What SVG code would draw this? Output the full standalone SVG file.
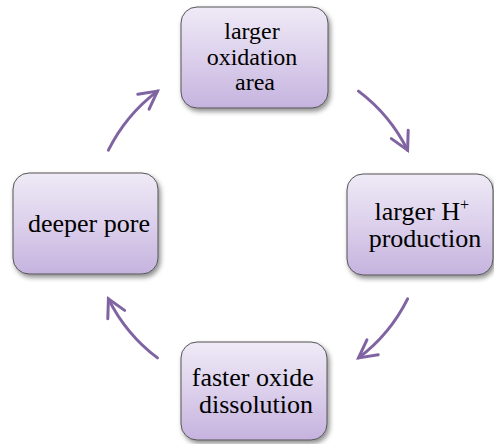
<svg xmlns="http://www.w3.org/2000/svg" width="494" height="444" viewBox="0 0 494 444">
  <defs>
    <linearGradient id="nodeFill" x1="0" y1="0" x2="0" y2="1">
      <stop offset="0" stop-color="#efeaf6"/>
      <stop offset="0.5" stop-color="#dcd0ec"/>
      <stop offset="1" stop-color="#c5b3de"/>
    </linearGradient>
    <filter id="shadow" x="-20%" y="-20%" width="140%" height="150%">
      <feDropShadow dx="2" dy="3" stdDeviation="2.5" flood-color="#000" flood-opacity="0.45"/>
    </filter>
    <marker id="chev" markerUnits="userSpaceOnUse" orient="auto" refX="0" refY="0" markerWidth="30" markerHeight="30" overflow="visible">
      <path d="M-17.6,-9.4 L0,0 L-17.6,9.4" fill="none" stroke="#8064a2" stroke-width="3" stroke-linecap="round" stroke-linejoin="miter"/>
    </marker>
  </defs>
  <style>
    .box { fill: url(#nodeFill); stroke: #555555; stroke-width: 1; filter: url(#shadow); }
    .lbl { font-family: "Liberation Serif", "Times New Roman", serif; fill: #000; text-anchor: middle; }
    .conn { fill: none; stroke: #8064a2; stroke-width: 3; stroke-linecap: round; marker-end: url(#chev); }
  </style>
  <rect width="494" height="444" fill="#ffffff"/>

  <g id="connectors">
    <path class="conn" d="M108.4,150.2 A167,167 0 0 1 157.5,91.1"/>
    <path class="conn" d="M358.5,91.1 A167,167 0 0 1 407.6,150.2"/>
    <path class="conn" d="M407.6,298.8 A167,167 0 0 1 358.5,357.9"/>
    <path class="conn" d="M157.5,357.9 A167,167 0 0 1 108.4,298.8"/>
  </g>

  <g id="node-oxidation-area">
    <rect class="box" x="181" y="7" width="147" height="101" rx="16" ry="16"/>
    <text class="lbl" font-size="24">
      <tspan x="255" y="39">larger</tspan>
      <tspan x="255" y="65">oxidation</tspan>
      <tspan x="255" y="90">area</tspan>
    </text>
  </g>

  <g id="node-h-production">
    <rect class="box" x="347" y="174" width="146" height="101" rx="16" ry="16"/>
    <text class="lbl" font-size="26">
      <tspan x="425" y="220">larger H<tspan font-size="16" dy="-10">+</tspan></tspan>
      <tspan x="425" y="247">production</tspan>
    </text>
  </g>

  <g id="node-oxide-dissolution">
    <rect class="box" x="181" y="342" width="146" height="98" rx="16" ry="16"/>
    <text class="lbl" font-size="26">
      <tspan x="256" y="386">faster oxide</tspan>
      <tspan x="256" y="413">dissolution</tspan>
    </text>
  </g>

  <g id="node-deeper-pore">
    <rect class="box" x="13" y="173" width="145" height="101" rx="16" ry="16"/>
    <text class="lbl" font-size="26" x="89" y="232">deeper pore</text>
  </g>
</svg>
